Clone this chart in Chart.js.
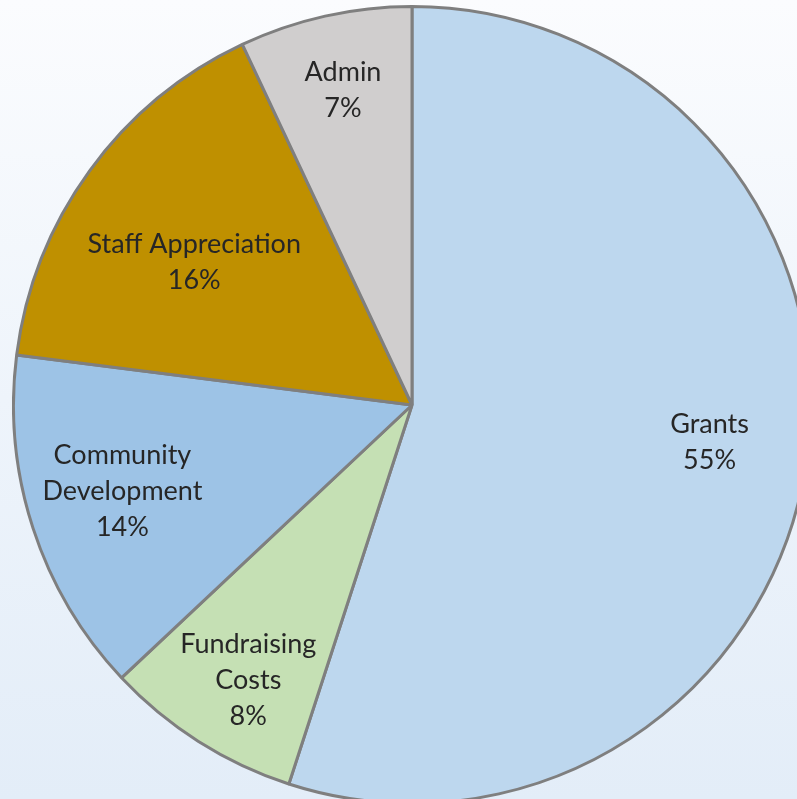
<!DOCTYPE html>
<html>
<head>
<meta charset="utf-8">
<script src="https://cdn.jsdelivr.net/npm/chart.js@4"></script>
<style>
  html, body { margin: 0; padding: 0; width: 797px; height: 799px; overflow: hidden; }
  body { background: linear-gradient(to bottom, #fbfcfe 0%, #eef4fb 50%, #e3edf8 100%); position: relative; }
  #wrap { position: absolute; left: 12px; top: 5px; width: 800px; height: 800px; }
</style>
</head>
<body>
<div id="wrap"><canvas id="budgetChart" width="800" height="800"></canvas></div>
<script>
const categories = ["Grants", "Fundraising Costs", "Community Development", "Staff Appreciation", "Admin"];
const labelLines = [["Grants"], ["Fundraising", "Costs"], ["Community", "Development"], ["Staff Appreciation"], ["Admin"]];
const shares = [55, 8, 14, 16, 7];
const sliceColors = ["#BDD7EE", "#C5E0B4", "#9DC3E6", "#BF9000", "#D0CECE"];
// label placement: distance out (fraction of radius) and where along the slice's sweep
const labelRadius = [0.752, 0.80, 0.757, 0.656, 0.813];
const labelSweep = [0.489, 0.448, 0.534, 0.458, 0.512];

const sliceLabels = {
    id: 'sliceLabels',
    afterDatasetsDraw(chart) {
        const ctx = chart.ctx;
        const meta = chart.getDatasetMeta(0);
        ctx.save();
        ctx.font = '27px Lato, "Noto Sans", sans-serif';
        ctx.fillStyle = '#262626';
        ctx.textAlign = 'center';
        ctx.textBaseline = 'middle';
        meta.data.forEach((arc, i) => {
            const a = arc.startAngle + (arc.endAngle - arc.startAngle) * labelSweep[i];
            const r = arc.outerRadius * labelRadius[i];
            const cx = arc.x + Math.cos(a) * r;
            const cy = arc.y + Math.sin(a) * r + 2;
            const lines = labelLines[i].concat([shares[i] + '%']);
            const lh = 36;
            lines.forEach((t, j) => {
                ctx.fillText(t, cx, cy + (j - (lines.length - 1) / 2) * lh);
            });
        });
        ctx.restore();
    }
};

new Chart(document.getElementById('budgetChart').getContext('2d'), {
    type: 'pie',
    data: {
        labels: categories,
        datasets: [{
            data: shares,
            backgroundColor: sliceColors,
            borderColor: '#7f7f7f',
            borderWidth: 3,
            borderAlign: 'center'
        }]
    },
    options: {
        responsive: false,
        animation: false,
        layout: { padding: 0 },
        plugins: {
            legend: { display: false },
            tooltip: { enabled: false }
        }
    },
    plugins: [sliceLabels]
});
</script>
</body>
</html>
